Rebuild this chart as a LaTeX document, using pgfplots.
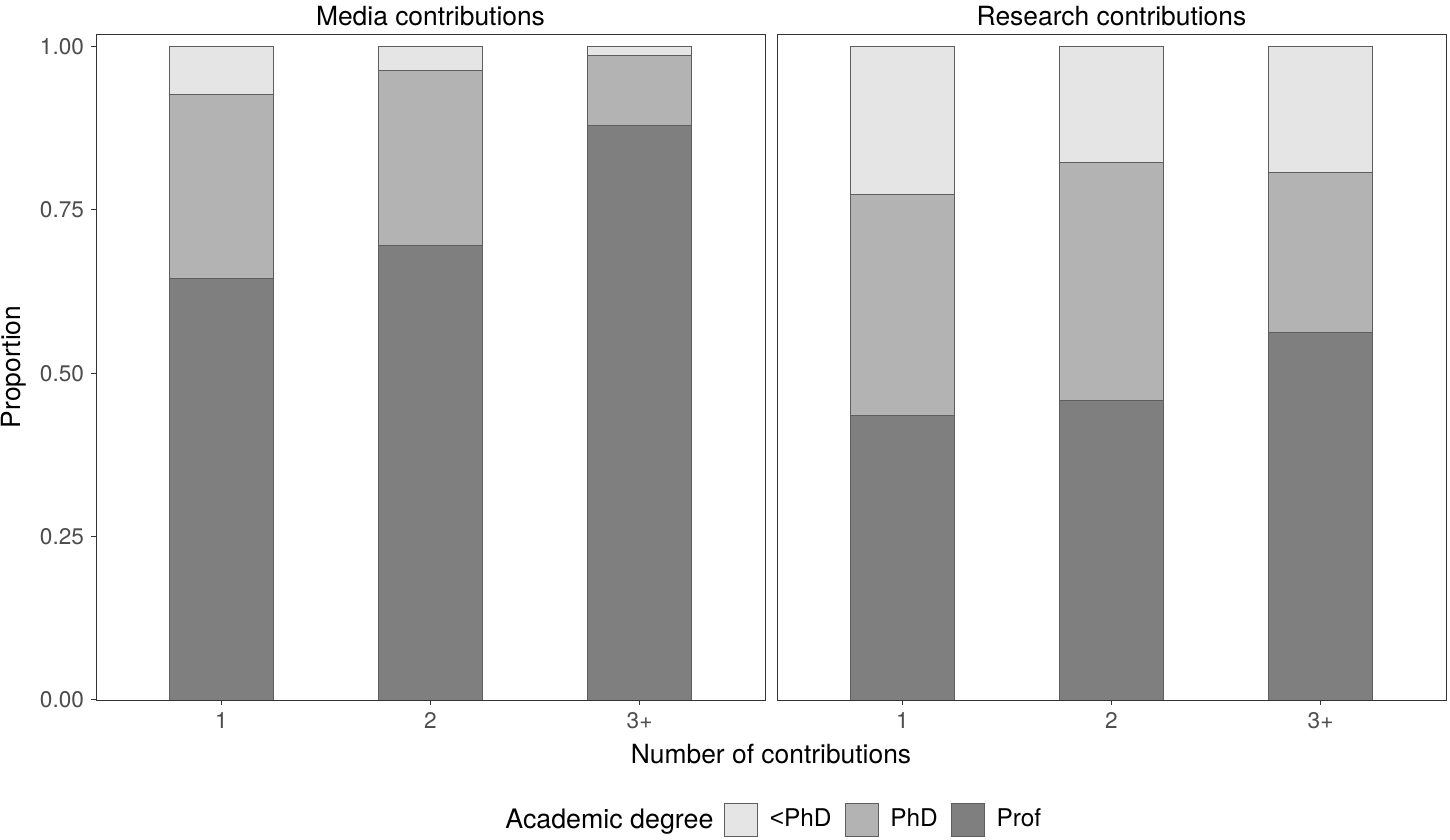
\documentclass[border=0pt]{standalone}
\usepackage{fontspec}
\setmainfont{TeX Gyre Heros}
\newfontfamily\arialfont{Liberation Sans}
\usepackage{pgfplots}
\pgfplotsset{compat=1.18}
\definecolor{cLow}{HTML}{E5E5E5}
\definecolor{cPhD}{HTML}{B3B3B3}
\definecolor{cProf}{HTML}{7F7F7F}
\definecolor{gBorder}{HTML}{333333}
\definecolor{gTick}{HTML}{4D4D4D}
\definecolor{gBar}{HTML}{5E5E5E}
\pgfplotsset{panel/.style={
  scale only axis, width=334.5pt, height=333pt, anchor=south west,
  ybar stacked, bar width=0.5,
  xmin=0.4, xmax=3.6, ymin=0, ymax=1.0194,
  xtick={1,2,3}, xticklabels={1,2,3+},
  tick align=outside, xtick pos=bottom, ytick pos=left,
  major tick length=2.5pt,
  tick style={gBorder, line width=0.5pt},
  axis line style={gBorder, line width=0.45pt},
  ticklabel style={font=\fontsize{11.3}{13}\selectfont, text=gTick},
  /pgf/number format/assume math mode=true,
  every axis plot/.append style={draw=gBar, line width=0.4pt},
  title style={font=\fontsize{13.2}{15}\selectfont, at={(0.5,1)}, anchor=base, yshift=-2pt},
  legend image code/.code={\draw[#1] (0pt,-8.25pt) rectangle (16.5pt,8.25pt);},
}}
\begin{document}
\begin{tikzpicture}
\path[use as bounding box] (0,0) rectangle (725pt,420pt);
\begin{axis}[panel, at={(48pt,70pt)}, title={Media contributions},
  ytick={0,0.25,0.5,0.75,1},
  yticklabel style={/pgf/number format/fixed, /pgf/number format/fixed zerofill, /pgf/number format/precision=2},
  reverse legend, legend columns=-1,
  legend style={draw=none, at={(0.9387,-0.1794)}, anchor=west, inner sep=0pt, outer sep=0pt,
    font=\fontsize{12.2}{14}\selectfont, nodes={inner sep=0pt},
    /tikz/every odd column/.append style={column sep=6pt},
    /tikz/every even column/.append style={column sep=6.5pt}},
]
\addplot[fill=cProf] coordinates {(1,0.645) (2,0.696) (3,0.879)};
\addplot[fill=cPhD] coordinates {(1,0.282) (2,0.268) (3,0.108)};
\addplot[fill=cLow] coordinates {(1,0.073) (2,0.036) (3,0.013)};
\legend{Prof,PhD,{\arialfont\textless}PhD}
\end{axis}
\begin{axis}[panel, at={(388.5pt,70pt)}, title={Research contributions}, ytick=\empty]
\addplot[fill=cProf] coordinates {(1,0.436) (2,0.458) (3,0.562)};
\addplot[fill=cPhD] coordinates {(1,0.338) (2,0.365) (3,0.245)};
\addplot[fill=cLow] coordinates {(1,0.226) (2,0.177) (3,0.193)};
\end{axis}
\node[font=\fontsize{13.2}{15}\selectfont, anchor=base] at (385.5pt,38.3pt) {Number of contributions};
\node[font=\fontsize{13.2}{15}\selectfont, anchor=base, rotate=90] at (10pt,236.5pt) {Proportion};
\node[font=\fontsize{13.4}{15}\selectfont, anchor=base west, inner sep=0pt] at (252.5pt,5.5pt) {Academic degree};
\end{tikzpicture}
\end{document}
